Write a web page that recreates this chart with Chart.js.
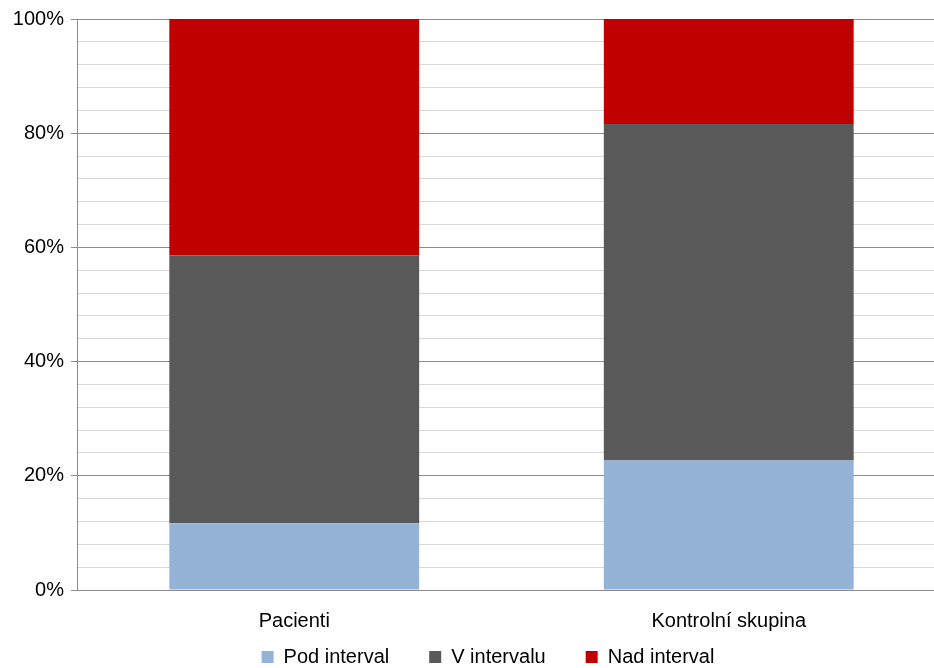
<!DOCTYPE html>
<html>
<head>
<meta charset="utf-8">
<script src="https://cdn.jsdelivr.net/npm/chart.js@4/dist/chart.umd.min.js"></script>
<style>
html,body{margin:0;padding:0;background:#fff;overflow:hidden;width:934px;height:668px;}
#wrap{position:absolute;left:0;top:0;width:946px;height:668px;}
</style>
</head>
<body>
<div id="wrap"><canvas id="c" width="946" height="668"></canvas></div>
<script>
const categories = ["Pacienti", "Kontrolní skupina"];
const seriesNames = ["Pod interval", "V intervalu", "Nad interval"];
const podInterval = [11.7, 22.7];
const vIntervalu = [46.9, 58.9];
const nadInterval = [41.4, 18.4];
const seriesColors = ["#95B3D7", "#595959", "#C00000"];

Chart.defaults.font.family = "'Liberation Sans', Arial, sans-serif";
Chart.defaults.font.size = 20;
Chart.defaults.color = "#000";

const LEGEND_PAD = 40;
const legendShift = {
  id: 'legendShift',
  afterLayout(chart) {
    const l = chart.legend;
    if (!l) return;
    l.top = 647 - LEGEND_PAD;
    l.bottom = 668;
    l.height = l.bottom - l.top;
    l.left += 15;
    l.right += 15;
  }
};

new Chart(document.getElementById('c'), {
  type: 'bar',
  data: {
    labels: categories,
    datasets: [
      {label: seriesNames[0], data: podInterval, backgroundColor: seriesColors[0]},
      {label: seriesNames[1], data: vIntervalu, backgroundColor: seriesColors[1]},
      {label: seriesNames[2], data: nadInterval, backgroundColor: seriesColors[2]}
    ]
  },
  plugins: [legendShift],
  options: {
    responsive: false,
    animation: false,
    devicePixelRatio: 1,
    layout: {padding: {top: 18, left: 0, right: 0, bottom: 0}},
    datasets: {bar: {categoryPercentage: 0.575, barPercentage: 1.0}},
    plugins: {
      tooltip: {enabled: false},
      legend: {
        position: 'bottom',
        maxHeight: 36,
        labels: {boxWidth: 12, boxHeight: 12, padding: LEGEND_PAD, font: {size: 20}}
      }
    },
    scales: {
      x: {
        stacked: true,
        grid: {display: false, drawTicks: false},
        border: {display: false},
        ticks: {padding: 19, font: {size: 20}},
        afterFit: s => { s.height = 42; }
      },
      y: {
        stacked: true,
        min: 0, max: 100,
        ticks: {
          stepSize: 4,
          padding: 7,
          autoSkip: false,
          font: {size: 20},
          callback: v => (v % 20 === 0 ? v + '%' : '')
        },
        grid: {
          color: ctx => (ctx.tick && ctx.tick.value % 20 === 0 ? '#8c8c8c' : '#d9d9d9'),
          tickColor: ctx => (ctx.tick && ctx.tick.value % 20 === 0 ? '#8c8c8c' : 'rgba(0,0,0,0)'),
          tickLength: 6,
          lineWidth: 1
        },
        border: {display: true, color: '#8c8c8c'},
        afterFit: s => { s.width = 77; }
      }
    }
  }
});
</script>
</body>
</html>
